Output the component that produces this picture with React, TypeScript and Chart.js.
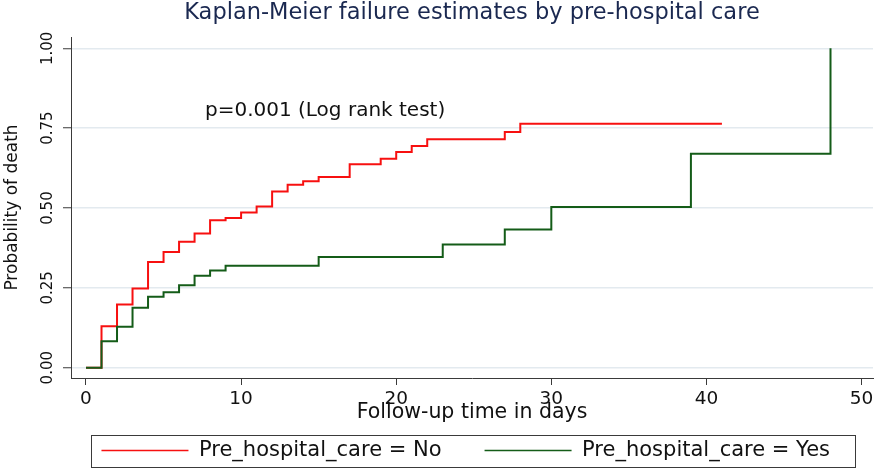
import React, { useEffect, useRef } from 'react';
import { Chart, registerables } from 'chart.js';

Chart.register(...registerables);

const chartTitle = 'Kaplan-Meier failure estimates by pre-hospital care';
const xTitle = 'Follow-up time in days';
const yTitle = 'Probability of death';
const pValueText = 'p=0.001 (Log rank test)';
const seriesNames = ['Pre_hospital_care = No', 'Pre_hospital_care = Yes'];

const noDays = [0, 1, 2, 3, 4, 5, 6, 7, 8, 9, 10, 11, 12, 13, 14, 15, 17, 19, 20, 21, 22, 27, 28, 41];
const noProb = [0, 0.13, 0.198, 0.248, 0.331, 0.362, 0.394, 0.42, 0.462, 0.469, 0.486, 0.505, 0.552, 0.573, 0.584, 0.597, 0.637, 0.654, 0.675, 0.694, 0.715, 0.738, 0.764, 0.764];
const yesDays = [0, 1, 2, 3, 4, 5, 6, 7, 8, 9, 15, 23, 27, 30, 39, 48];
const yesProb = [0, 0.083, 0.128, 0.188, 0.222, 0.236, 0.258, 0.288, 0.304, 0.319, 0.347, 0.386, 0.433, 0.503, 0.67, 1.0];

const xTicks = [0, 10, 20, 30, 40, 50];
const xTickLabels = ['0', '10', '20', '30', '40', '50'];
const yTicks = [0, 0.25, 0.5, 0.75, 1];
const yTickLabels = ['0.00', '0.25', '0.50', '0.75', '1.00'];

const xRange = { min: -0.967, max: 50.74 };
const yRange = { min: -0.0322, max: 1.0354 };
const pValuePos = { day: 7.67, prob: 0.805 };

const FONT = 'DejaVu Sans';
const RED = '#f71010';
const GREEN = '#145c18';
const AXIS = '#3a3a3a';
const GRID = '#e3eaef';
const TEXT = '#111111';

const legendBoxPlugin = {
  id: 'legendBox',
  afterDraw(chart: any) {
    const lg = chart.legend;
    const hb = lg && lg.legendHitBoxes;
    if (!hb || !hb.length) return;
    const left = Math.min(...hb.map((h: any) => h.left)) - 10;
    const right = Math.max(...hb.map((h: any) => h.left + h.width)) + 25;
    const cy = hb[0].top + hb[0].height / 2;
    const ctx = chart.ctx;
    ctx.save();
    ctx.strokeStyle = AXIS;
    ctx.lineWidth = 1;
    ctx.strokeRect(Math.round(left) + 0.5, Math.round(cy - 16) + 0.5, Math.round(right - left), 32);
    ctx.restore();
  },
};

const pValuePlugin = {
  id: 'pValue',
  afterDatasetsDraw(chart: any) {
    const { ctx, scales } = chart;
    ctx.save();
    ctx.font = `20px "${FONT}"`;
    ctx.fillStyle = TEXT;
    ctx.textAlign = 'left';
    ctx.textBaseline = 'middle';
    ctx.fillText(pValueText, scales.x.getPixelForValue(pValuePos.day), scales.y.getPixelForValue(pValuePos.prob));
    ctx.restore();
  },
};

export default function App() {
  const ref = useRef<HTMLCanvasElement | null>(null);

  useEffect(() => {
    if (!ref.current) return;
    const defaultLabels = (Chart as any).defaults.plugins.legend.labels.generateLabels;
    const chart = new Chart(ref.current, {
      type: 'line',
      data: {
        datasets: [
          {
            label: seriesNames[0],
            data: noDays.map((d, i) => ({ x: d, y: noProb[i] })),
            borderColor: RED,
            backgroundColor: RED,
            borderWidth: 2,
            pointRadius: 0,
            stepped: 'before',
            order: 1,
          },
          {
            label: seriesNames[1],
            data: yesDays.map((d, i) => ({ x: d, y: yesProb[i] })),
            borderColor: GREEN,
            backgroundColor: GREEN,
            borderWidth: 2,
            pointRadius: 0,
            stepped: 'before',
            order: 0,
          },
        ],
      },
      options: {
        responsive: false,
        animation: false,
        devicePixelRatio: 1,
        layout: { padding: { left: 0, right: 5, top: 0, bottom: 0 } },
        plugins: {
          tooltip: { enabled: false },
          title: {
            display: true,
            text: chartTitle,
            color: '#1a2850',
            fullSize: false,
            font: { family: FONT, size: 22.5, weight: 'normal' },
            padding: { top: 0, bottom: 10 },
          },
          legend: {
            display: true,
            position: 'bottom',
            align: 'end',
            fullSize: true,
            labels: {
              usePointStyle: true,
              pointStyle: 'line',
              pointStyleWidth: 87,
              padding: 43,
              color: TEXT,
              font: { family: FONT, size: 21 },
              sort: (a: any, b: any) => a.datasetIndex - b.datasetIndex,
              generateLabels: (c: any) =>
                defaultLabels(c).map((it: any) => ({ ...it, lineWidth: 1.5 })),
            },
          },
        },
        scales: {
          x: {
            type: 'linear',
            min: xRange.min,
            max: xRange.max,
            afterBuildTicks: (s: any) => {
              s.ticks = xTicks.map((v) => ({ value: v }));
            },
            afterFit: (s: any) => {
              s.height = 19;
            },
            ticks: {
              color: TEXT,
              font: { family: FONT, size: 18.5 },
              mirror: true,
              padding: -32,
              maxRotation: 0,
              autoSkip: false,
              callback: (_v: any, i: number) => xTickLabels[i],
            },
            grid: {
              display: true,
              drawOnChartArea: false,
              drawTicks: true,
              tickLength: 7,
              tickColor: AXIS,
            },
            border: { display: true, color: AXIS, width: 1 },
            title: {
              display: true,
              text: xTitle,
              color: TEXT,
              font: { family: FONT, size: 20.5 },
              padding: { top: 0, bottom: -28 },
            },
          },
          y: {
            type: 'linear',
            min: yRange.min,
            max: yRange.max,
            afterBuildTicks: (s: any) => {
              s.ticks = yTicks.map((v) => ({ value: v }));
            },
            afterFit: (s: any) => {
              s.width = 71;
            },
            ticks: {
              color: TEXT,
              font: { family: FONT, size: 15 },
              padding: -2,
              minRotation: 90,
              maxRotation: 90,
              crossAlign: 'center',
              autoSkip: false,
              callback: (_v: any, i: number) => yTickLabels[i],
            },
            grid: {
              display: true,
              drawOnChartArea: true,
              drawTicks: true,
              tickLength: 8,
              color: GRID,
              lineWidth: 1.5,
              tickColor: AXIS,
              tickWidth: 1,
            },
            border: { display: true, color: AXIS, width: 1 },
            title: {
              display: true,
              text: yTitle,
              color: TEXT,
              font: { family: FONT, size: 17 },
              padding: { top: 2, bottom: 0 },
            },
          },
        },
      } as any,
      plugins: [legendBoxPlugin, pValuePlugin],
    });
    return () => chart.destroy();
  }, []);

  return (
    <div style={{ position: 'fixed', left: 0, top: 0, width: 878, height: 471, background: '#ffffff' }}>
      <canvas ref={ref} width={878} height={471} />
    </div>
  );
}
